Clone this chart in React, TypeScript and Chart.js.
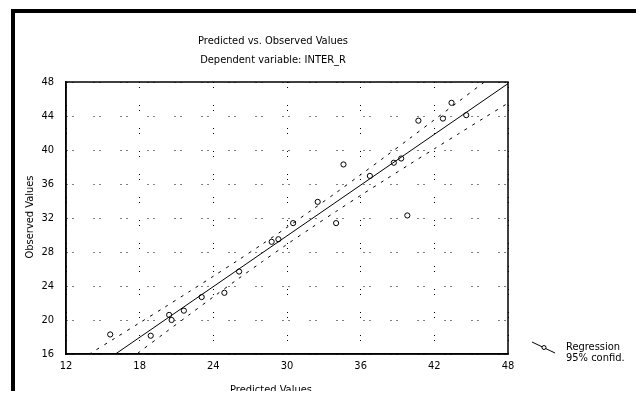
import React, { useEffect, useRef } from "react";
import { Chart, registerables } from "chart.js";

Chart.register(...registerables);

// Observed vs predicted data points
const predicted = [15.6, 18.9, 20.4, 20.6, 21.6, 23.05, 24.9, 26.1, 28.75, 29.3, 30.5, 32.5, 34.0, 34.6, 36.75, 38.7, 39.3, 39.8, 40.7, 42.7, 43.4, 44.6];
const observed = [18.3, 18.15, 20.6, 20.0, 21.1, 22.7, 23.2, 25.7, 29.2, 29.5, 31.4, 33.9, 31.4, 38.3, 36.95, 38.5, 39.0, 32.3, 43.45, 43.7, 45.55, 44.1];

// Regression line end points
const regX = [16.03, 48];
const regY = [16.0, 47.81];

// 95% confidence band
const bandX = [12, 14, 16, 18, 20, 22, 24, 26, 28, 30, 32, 34, 36, 38, 40, 42, 44, 46, 48];
const upper95 = [14.3, 16.08, 17.87, 19.67, 21.47, 23.3, 25.15, 27.02, 28.94, 30.9, 32.92, 34.98, 37.09, 39.22, 41.37, 43.55, 45.73, 47.92, 50.11];
const lower95 = [9.7, 11.89, 14.07, 16.26, 18.43, 20.58, 22.72, 24.82, 26.88, 28.9, 30.86, 32.78, 34.66, 36.5, 38.33, 40.14, 41.93, 43.73, 45.51];

const xTicks = [12, 18, 24, 30, 36, 42, 48];
const yTicks = [16, 20, 24, 28, 32, 36, 40, 44, 48];

const titleLines = ["Predicted vs. Observed Values", "Dependent variable: INTER_R"];
const xTitle = "Predicted Values";
const yTitle = "Observed Values";
const legendLines = ["Regression", "95% confid."];

const FONT = "'Liberation Sans Narrow', 'DejaVu Sans Condensed', 'Liberation Sans', Arial, sans-serif";

const decorPlugin = {
  id: "decor",
  beforeDraw(chart: any) {
    const { ctx, width, height } = chart;
    ctx.save();
    ctx.fillStyle = "#fff";
    ctx.fillRect(0, 0, width, height);
    ctx.fillStyle = "#000";
    ctx.fillRect(3, 1, 4, height - 1);
    ctx.fillRect(3, 1, width - 3, 4);
    ctx.fillRect(width - 6, 1, 6, height - 1);
    ctx.restore();
  },
  afterDraw(chart: any) {
    const { ctx, chartArea } = chart;
    const { left, right, top, bottom } = chartArea;
    ctx.save();
    ctx.strokeStyle = "#000";
    ctx.lineWidth = 1.5;
    ctx.strokeRect(left, top, right - left, bottom - top);

    const cx = (left + right) / 2 - 14;
    ctx.fillStyle = "#000";
    ctx.textAlign = "center";
    ctx.textBaseline = "middle";
    ctx.font = `11px ${FONT}`;
    ctx.fillText(titleLines[0], cx, top - 41);
    ctx.fillText(titleLines[1], cx, top - 22);
    ctx.fillText(xTitle, cx - 2, bottom + 36);

    ctx.save();
    ctx.translate(left - 36, (top + bottom) / 2 - 1);
    ctx.rotate(-Math.PI / 2);
    ctx.fillText(yTitle, 0, 0);
    ctx.restore();

    // legend
    const lx = right + 24;
    const ly = bottom - 12;
    ctx.lineWidth = 1;
    ctx.beginPath();
    ctx.moveTo(lx, ly);
    ctx.lineTo(lx + 23, ly + 11);
    ctx.stroke();
    ctx.beginPath();
    ctx.arc(lx + 12, ly + 5.5, 2, 0, Math.PI * 2);
    ctx.fillStyle = "#fff";
    ctx.fill();
    ctx.stroke();
    ctx.fillStyle = "#000";
    ctx.textAlign = "left";
    ctx.fillText(legendLines[0], lx + 34, ly + 5);
    ctx.fillText(legendLines[1], lx + 34, ly + 16);
    ctx.restore();
  },
};

export default function App() {
  const ref = useRef<HTMLCanvasElement | null>(null);
  useEffect(() => {
    document.body.style.overflow = "hidden";
    document.documentElement.style.overflow = "hidden";
    const canvas = ref.current!;
    const chart = new Chart(canvas, {
      type: "scatter",
      data: {
        datasets: [
          {
            label: "Observed",
            data: predicted.map((x, i) => ({ x, y: observed[i] })),
            pointRadius: 2.6,
            pointBorderWidth: 1,
            pointBorderColor: "#000",
            pointBackgroundColor: "rgba(255,255,255,0)",
            showLine: false,
          },
          {
            label: "Regression",
            data: regX.map((x, i) => ({ x, y: regY[i] })),
            showLine: true,
            borderColor: "#000",
            borderWidth: 1,
            pointRadius: 0,
            clip: 0,
          },
          {
            label: "Upper 95%",
            data: bandX.map((x, i) => ({ x, y: upper95[i] })),
            showLine: true,
            borderColor: "#000",
            borderWidth: 1,
            borderDash: [3, 6],
            pointRadius: 0,
            tension: 0.3,
            clip: 0,
          },
          {
            label: "Lower 95%",
            data: bandX.map((x, i) => ({ x, y: lower95[i] })),
            showLine: true,
            borderColor: "#000",
            borderWidth: 1,
            borderDash: [3, 6],
            pointRadius: 0,
            tension: 0.3,
            clip: 0,
          },
        ],
      },
      options: {
        animation: false,
        responsive: false,
        devicePixelRatio: 1,
        layout: { padding: { left: 0, top: 74, right: 136, bottom: 0 } },
        plugins: { legend: { display: false }, tooltip: { enabled: false }, title: { display: false } },
        scales: {
          x: {
            type: "linear",
            min: 12,
            max: 48,
            afterBuildTicks: (s: any) => {
              s.ticks = xTicks.map((v) => ({ value: v }));
            },
            afterFit: (s: any) => {
              s.height = 45;
            },
            ticks: { color: "#000", font: { family: FONT, size: 11 }, padding: 6, maxRotation: 0 },
            grid: { color: "#000", lineWidth: 1, drawTicks: false },
            border: { color: "#000", width: 1.5, dash: [1, 4, 1, 17] },
          },
          y: {
            type: "linear",
            min: 16,
            max: 48,
            afterBuildTicks: (s: any) => {
              s.ticks = yTicks.map((v) => ({ value: v }));
            },
            afterFit: (s: any) => {
              s.width = 58;
            },
            ticks: { color: "#000", font: { family: FONT, size: 11 }, padding: 12 },
            grid: { color: "#000", lineWidth: 1, drawTicks: false },
            border: { color: "#000", width: 1.5, dash: [1, 5, 1, 20] },
          },
        },
      },
      plugins: [decorPlugin],
    } as any);
    return () => chart.destroy();
  }, []);
  return (
    <canvas
      ref={ref}
      width={636}
      height={391}
      style={{ display: "block", width: 636, height: 391, marginBottom: -8 }}
    />
  );
}
